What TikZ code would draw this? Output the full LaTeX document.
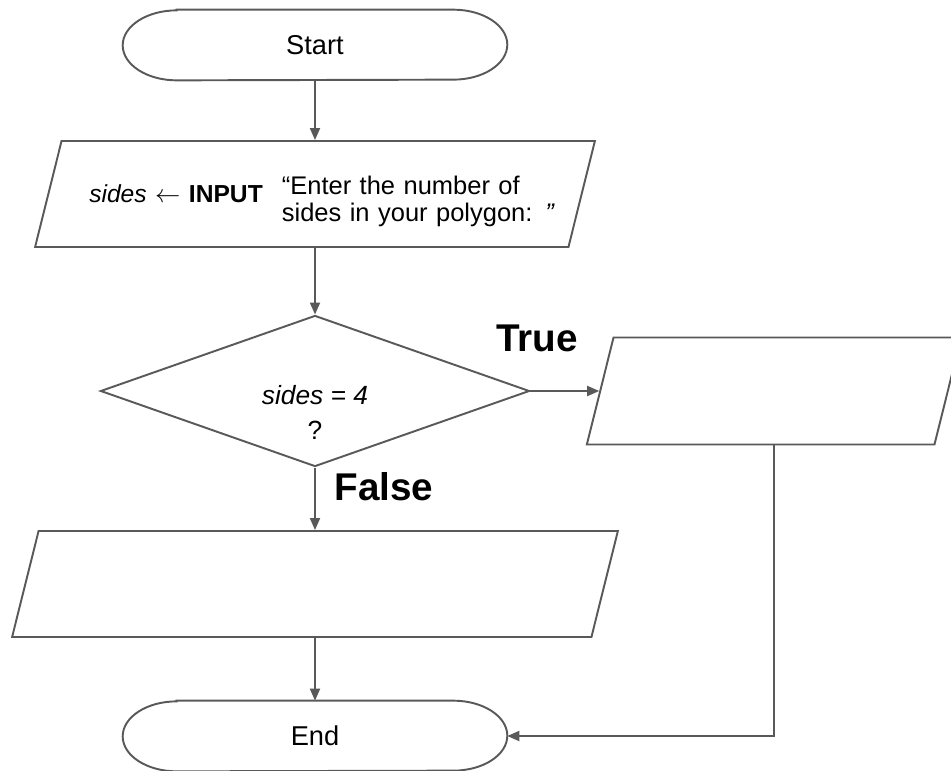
\documentclass[tikz,border=0pt]{standalone}
\usepackage{fontspec}
\setmainfont{Liberation Sans}
\usetikzlibrary{shapes.geometric,arrows.meta}
\definecolor{linegray}{HTML}{595959}

\begin{document}
\begin{tikzpicture}[x=0.02cm, y=-0.02cm,
  every node/.style={font=\fontsize{15.5}{18}\selectfont},
  outline/.style={draw=linegray, line width=1.1pt},
  flow/.style={outline, -{Triangle[length=0.24cm,width=0.2cm]}},
  term/.style={minimum width=7.68cm, minimum height=1.4cm, inner sep=0pt},
  io/.style={trapezium, trapezium left angle=76, trapezium right angle=104, outline},
  test/.style={diamond, outline, aspect=2.84, minimum width=8.4cm, minimum height=2.96cm},
  branch/.style={font=\bfseries\fontsize{22}{26}\selectfont, anchor=base}]
  \useasboundingbox (0,0) rectangle (951,771);
  \clip (0,0) rectangle (951,771);
  \node[term] (start) at (315,45) {Start};
  \node[io, inner xsep=0pt, inner ysep=0.351cm, text width=10.14cm, align=center,
    font=\fontsize{14.5}{15.5}\selectfont] (input) at (315,194)
    {\hspace*{0.28cm}\rule{0pt}{1.0cm}%
     \raisebox{3.4pt}{\fontsize{14}{15}\selectfont\textit{sides} $\leftarrow$ \textbf{INPUT}}\hspace{0.75em}%
     \begin{tabular}{@{}l@{}}“Enter the number of\\sides in your polygon: \textit{”}\end{tabular}};
  \node[test, align=center, font=\fontsize{15}{20.4}\selectfont] (dec) at (315,391)
    {\rule{0pt}{1.24cm}\textit{sides = 4}\\?};
  \node[io, inner xsep=3.21cm, inner ysep=1.07cm] (yes) at (774,391) {};
  \node[io, inner xsep=5.53cm, inner ysep=1.06cm] (no) at (315,584) {};
  \node[term] (stop) at (315,736) {End};
  % oval ends of the terminals
  \foreach \t in {start,stop}
    \draw[outline] ([xshift=1.08cm]\t.north west) -- ([xshift=-1.08cm]\t.north east)
      arc[start angle=90, end angle=-90, x radius=1.08cm, y radius=0.7cm]
      -- ([xshift=1.08cm]\t.south west)
      arc[start angle=270, end angle=90, x radius=1.08cm, y radius=0.7cm] -- cycle;
  \draw[flow] (start.south) -- (start.south |- input.north);
  \draw[flow] (dec.north |- input.south) -- (dec.north);
  \draw[flow] (dec.east) -- (yes.west);
  \draw[flow] (dec.south) -- (dec.south |- no.north);
  \draw[flow] (stop.north |- no.south) -- (stop.north);
  \draw[flow] (yes.center |- yes.south) |- (stop.east);
  \node[branch] (lblT) at (537,351) {True};
  \node[branch] (lblF) at (384,500) {False};
\end{tikzpicture}
\end{document}
